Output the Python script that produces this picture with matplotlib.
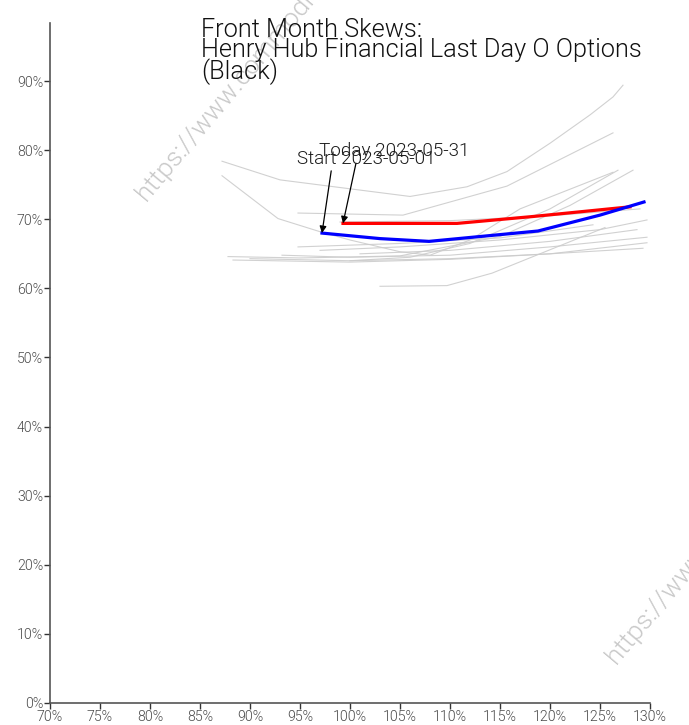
import matplotlib
matplotlib.use("Agg")
import matplotlib.pyplot as plt
from matplotlib.ticker import PercentFormatter

plt.rcParams['font.family'] = ['Roboto', 'DejaVu Sans']
plt.rcParams['font.weight'] = 300

# moneyness (strike / underlying) and implied vol for the two highlighted days
start_x = [0.972, 1.03, 1.079, 1.188, 1.25, 1.294]
start_y = [0.680, 0.672, 0.668, 0.683, 0.706, 0.725]
today_x = [0.993, 1.107, 1.183, 1.280]
today_y = [0.694, 0.694, 0.704, 0.718]

# other days in the month (thin grey lines)
grey_x = [
    [0.872, 0.93, 1.06, 1.117, 1.157, 1.20, 1.24, 1.263, 1.273],
    [0.872, 0.928, 0.97, 1.00, 1.05, 1.08, 1.12, 1.17, 1.263],
    [0.948, 1.053, 1.157, 1.263],
    [1.03, 1.097, 1.142, 1.255],
    [0.878, 0.95, 1.05, 1.15, 1.22, 1.283],
    [0.883, 1.00, 1.10, 1.20, 1.297],
    [0.932, 1.00, 1.10, 1.20, 1.297],
    [0.948, 1.05, 1.15, 1.243],
    [0.90, 1.00, 1.10, 1.20, 1.293],
    [1.00, 1.06, 1.12, 1.20, 1.268],
    [0.97, 1.05, 1.15, 1.25, 1.297],
    [0.99, 1.10, 1.20, 1.29],
    [1.01, 1.10, 1.20, 1.287],
]
grey_y = [
    [0.784, 0.757, 0.733, 0.747, 0.769, 0.81, 0.851, 0.877, 0.894],
    [0.763, 0.701, 0.682, 0.670, 0.653, 0.648, 0.67, 0.715, 0.768],
    [0.709, 0.706, 0.748, 0.825],
    [0.603, 0.604, 0.622, 0.688],
    [0.646, 0.644, 0.647, 0.675, 0.72, 0.771],
    [0.641, 0.638, 0.642, 0.650, 0.666],
    [0.648, 0.645, 0.648, 0.660, 0.674],
    [0.660, 0.665, 0.673, 0.692],
    [0.643, 0.640, 0.643, 0.650, 0.658],
    [0.640, 0.645, 0.665, 0.715, 0.771],
    [0.655, 0.660, 0.670, 0.685, 0.699],
    [0.696, 0.698, 0.705, 0.715],
    [0.650, 0.655, 0.668, 0.685],
]

x_ticks = [0.70, 0.75, 0.80, 0.85, 0.90, 0.95, 1.00, 1.05, 1.10, 1.15, 1.20, 1.25, 1.30]
y_ticks = [0.0, 0.1, 0.2, 0.3, 0.4, 0.5, 0.6, 0.7, 0.8, 0.9]

fig = plt.figure(figsize=(6.89, 7.25), dpi=100)
ax = fig.add_axes([50 / 689, 22 / 725, 600 / 689, 680 / 725])

for gx, gy in zip(grey_x, grey_y):
    ax.plot(gx, gy, color='#cccccc', lw=0.8, alpha=0.9, zorder=1)

ax.plot(today_x, today_y, color='red', lw=2.3, zorder=3)
ax.plot(start_x, start_y, color='blue', lw=2.3, zorder=3)

arrow = dict(arrowstyle='-|>', color='black', lw=0.9, shrinkA=0, shrinkB=0,
             relpos=(0.25, 0.0), mutation_scale=10)
ax.annotate('Today 2023-05-31', xy=(today_x[0], today_y[0]), xytext=(-24, 63),
            textcoords='offset pixels', ha='left', va='bottom', fontsize=13.6,
            fontweight=300, color='#1a1a1a', arrowprops=arrow, zorder=4)
ax.annotate('Start 2023-05-01', xy=(start_x[0], start_y[0]), xytext=(-25, 65),
            textcoords='offset pixels', ha='left', va='bottom', fontsize=13.6,
            fontweight=300, color='#1a1a1a', arrowprops=arrow, zorder=4)

ax.set_xlim(0.70, 1.30)
ax.set_ylim(0, 0.984)
ax.set_xticks(x_ticks)
ax.set_yticks(y_ticks)
ax.xaxis.set_major_formatter(PercentFormatter(1.0, decimals=0))
ax.yaxis.set_major_formatter(PercentFormatter(1.0, decimals=0))

for s in ['top', 'right']:
    ax.spines[s].set_visible(False)
for s in ['left', 'bottom']:
    ax.spines[s].set_color('#555555')
    ax.spines[s].set_linewidth(1.2)
ax.tick_params(colors='#333333', labelcolor='#4a4a4a', labelsize=10.2,
               length=4, width=1, pad=1)

fig.text(201 / 689, 1 - 18 / 725,
         'Front Month Skews:\nHenry Hub Financial Last Day O Options\n(Black)',
         ha='left', va='top', fontsize=18.3, fontweight=300,
         linespacing=0.8, color='#111111')

# watermarks
fig.text(150 / 689, 1 - 205 / 725, 'https://www.commodities.com',
         rotation=50, fontsize=19, fontweight=300, color='#c8c8c8',
         ha='left', va='bottom', rotation_mode='anchor', zorder=0)
fig.text(620 / 689, 1 - 668 / 725, 'https://www.commodities.com',
         rotation=50, fontsize=19, fontweight=300, color='#c8c8c8',
         ha='left', va='bottom', rotation_mode='anchor', zorder=0)

fig.savefig('out.png', dpi=100)
